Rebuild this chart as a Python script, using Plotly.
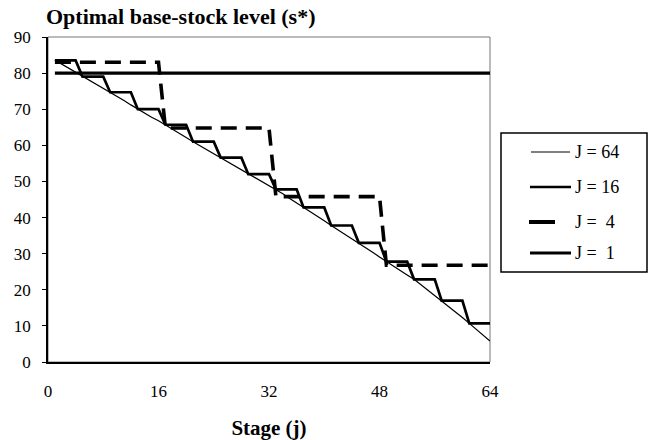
import plotly.graph_objects as go

# Stage index j = 1..64
stages = list(range(1, 65))

# Optimal base-stock level s* per stage for each number of review intervals J
s_j64 = [83.6, 82.5, 81.4, 80.2, 79.0, 77.9, 76.8, 75.8,
         74.7, 73.5, 72.4, 71.2, 70.0, 68.9, 67.8, 66.8,
         65.7, 64.5, 63.3, 62.2, 61.0, 59.9, 58.8, 57.7,
         56.6, 55.5, 54.3, 53.2, 52.0, 51.0, 49.9, 48.9,
         47.8, 46.6, 45.3, 44.1, 42.8, 41.6, 40.3, 39.1,
         37.8, 36.6, 35.4, 34.2, 33.0, 31.7, 30.4, 29.1,
         27.8, 26.6, 25.4, 24.1, 22.9, 21.4, 19.9, 18.5,
         17.0, 15.4, 13.8, 12.3, 10.7, 9.1, 7.5, 5.8]
levels_j16 = [83.5, 79.0, 74.7, 70.0, 65.7, 61.0, 56.6, 52.0,
              47.8, 42.8, 37.8, 33.0, 27.8, 22.9, 17.0, 10.7]
levels_j4 = [83.0, 64.8, 45.8, 26.8]
levels_j1 = [80.0]

x_ticks = [0, 16, 32, 48, 64]
y_ticks = [0, 10, 20, 30, 40, 50, 60, 70, 80, 90]


def expand(levels):
    """Repeat each level over its block of stages."""
    block = len(stages) // len(levels)
    return [levels[(j - 1) // block] for j in stages]


s_j16 = expand(levels_j16)
s_j4 = expand(levels_j4)
s_j1 = expand(levels_j1)

SERIF = "Liberation Serif"

W, H = 653, 440
L, R, T, B = 48, 163, 37, 78
PW, PH = W - L - R, H - T - B


def px(xp):
    return (xp - L) / PW


def py(yp):
    return (H - B - yp) / PH


series = [
    ("J = 64", s_j64, dict(color="black", width=1.2)),
    ("J = 16", s_j16, dict(color="black", width=2.7)),
    ("J =  4", s_j4, dict(color="black", width=3.6, dash="16px,9px")),
    ("J =  1", s_j1, dict(color="black", width=3.2)),
]

fig = go.Figure()
for name, ys, line in series:
    fig.add_trace(go.Scatter(x=stages, y=ys, mode="lines", name=name,
                             line=line, showlegend=False))

# Frame around the plotting area (thin grey top/right edges)
shapes = [
    dict(type="rect", xref="paper", yref="paper", x0=0, x1=1, y0=0, y1=1,
         line=dict(color="#777777", width=1), layer="below"),
]

# Legend box with line samples and labels
shapes.append(dict(type="rect", xref="paper", yref="paper",
                   x0=px(501), x1=px(647), y0=py(272), y1=py(133),
                   line=dict(color="black", width=1.5)))
legend_rows = [
    (152, 531, 570, dict(color="black", width=1.2)),
    (187, 530, 571, dict(color="black", width=2.5)),
    (222, 529, 555, dict(color="black", width=4)),
    (253, 530, 571, dict(color="black", width=3)),
]
annotations = []
for (yy, xa, xb, ln), (name, _, _) in zip(legend_rows, series):
    shapes.append(dict(type="line", xref="paper", yref="paper",
                       x0=px(xa), x1=px(xb), y0=py(yy), y1=py(yy), line=ln))
    annotations.append(dict(xref="paper", yref="paper", x=px(573), y=py(yy),
                            text=name.replace("  ", "&nbsp;&nbsp;"),
                            showarrow=False, xanchor="left", yanchor="middle",
                            font=dict(family=SERIF, size=18, color="black")))

fig.update_layout(
    width=W, height=H,
    margin=dict(l=L, r=R, t=T, b=B),
    paper_bgcolor="white", plot_bgcolor="white",
    title=dict(text="<b>Optimal base-stock level (s*)</b>",
               x=46 / W, xref="container", xanchor="left",
               y=1 - 16 / H, yref="container", yanchor="middle",
               font=dict(family=SERIF, size=22, color="black")),
    shapes=shapes,
    annotations=annotations,
    showlegend=False,
)

fig.update_xaxes(
    range=[0, 64], tickvals=x_ticks, ticktext=[str(v) for v in x_ticks],
    showgrid=False, zeroline=False, automargin=False,
    showline=True, linecolor="black", linewidth=1.5,
    ticks="", ticklabelstandoff=13,
    tickfont=dict(family=SERIF, size=17, color="black"),
    title=dict(text="<b>Stage (j)</b>", standoff=20,
               font=dict(family=SERIF, size=21, color="black")),
)
fig.update_yaxes(
    range=[0, 90], tickvals=y_ticks, ticktext=[str(v) for v in y_ticks],
    showgrid=False, zeroline=False, automargin=False,
    showline=True, linecolor="black", linewidth=1.5,
    ticks="outside", ticklen=4, tickcolor="black", tickwidth=1,
    ticklabelstandoff=8,
    tickfont=dict(family=SERIF, size=17, color="black"),
)

fig.write_html("out.html")
